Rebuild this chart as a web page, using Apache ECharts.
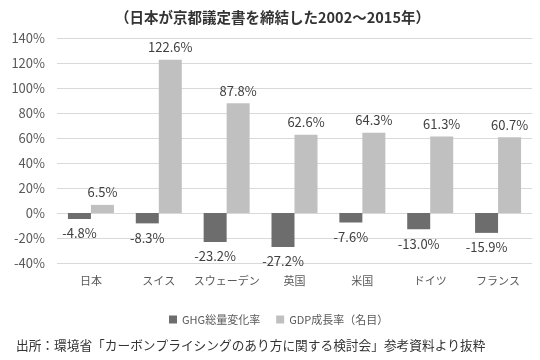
<!DOCTYPE html>
<html><head><meta charset="utf-8">
<script src="https://cdn.jsdelivr.net/npm/echarts@6/dist/echarts.min.js"></script>
<style>html,body{margin:0;padding:0;background:#fff}#c{width:540px;height:360px}</style>
</head><body><div id="c"></div>
<script>
const categories = ['日本','スイス','スウェーデン','英国','米国','ドイツ','フランス'];
const ghgValues = [-4.8,-8.3,-23.2,-27.2,-7.6,-13.0,-15.9];
const gdpValues = [6.5,122.6,87.8,62.6,64.3,61.3,60.7];
const seriesNames = ['GHG総量変化率','GDP成長率（名目）'];
const titleText = '（日本が京都議定書を締結した2002～2015年）';
const sourceText = '出所：環境省「カーボンプライシングのあり方に関する検討会」参考資料より抜粋';
const font = '"Noto Sans CJK JP","Noto Sans",sans-serif';
const chart = echarts.init(document.getElementById('c'));
chart.setOption({
  animation:false,
  textStyle:{fontFamily:font},
  title:[{text:titleText,left:110,top:5,textStyle:{fontSize:14.5,fontWeight:'bold',color:'#333',fontFamily:font}},
         {text:sourceText,left:11,top:334,textStyle:{fontSize:12.7,fontWeight:'normal',color:'#333',fontFamily:font}}],
  legend:{data:seriesNames,top:309,left:164,itemWidth:8,itemHeight:8,itemGap:16,icon:'rect',
    textStyle:{fontSize:11,color:'#595959',fontFamily:font}},
  grid:{left:57,right:8,top:38,bottom:97,containLabel:false},
  xAxis:{type:'category',data:categories,axisLine:{show:false},axisTick:{show:false},
    axisLabel:{interval:0,fontSize:11,color:'#595959',margin:12,fontFamily:font}},
  yAxis:{type:'value',min:-40,max:140,interval:20,
    axisLabel:{formatter:'{value}%',fontSize:13,color:'#595959',margin:12,fontFamily:font},
    splitLine:{lineStyle:{color:'#d9d9d9'}}},
  series:[
    {name:seriesNames[0],type:'bar',data:ghgValues,barWidth:23,barGap:'0%',itemStyle:{color:'#6d6d6d'},
     label:{show:true,position:'bottom',distance:8,formatter:p=>p.value.toFixed(1)+'%',fontSize:13,color:'#404040',fontFamily:font}},
    {name:seriesNames[1],type:'bar',data:gdpValues,barWidth:23,itemStyle:{color:'#c0c0c0'},
     label:{show:true,position:'top',distance:6,formatter:p=>p.value.toFixed(1)+'%',fontSize:13,color:'#404040',fontFamily:font}}
  ]
});
</script></body></html>
